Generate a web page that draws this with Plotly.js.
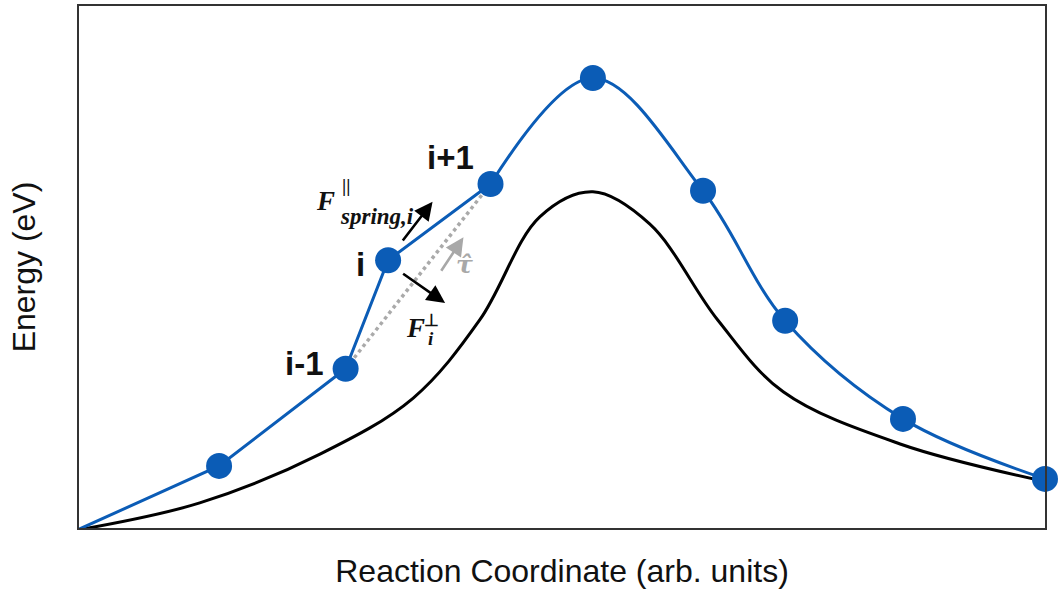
<!DOCTYPE html>
<html>
<head>
<meta charset="utf-8">
<script src="https://cdn.plot.ly/plotly-3.0.1.min.js"></script>
<style>html,body{margin:0;padding:0;background:#fff;}#chart{width:1058px;height:589px;}</style>
</head>
<body>
<div id="chart"></div>
<script>
// NEB images (blue band)
const imageX = [-0.2, 14.5, 27.6, 32.0, 42.6, 53.2, 64.6, 73.1, 85.3, 100.0];
const imageY = [-0.4, 11.9, 30.5, 51.3, 65.9, 86.2, 64.6, 39.7, 20.9, 9.4];
// true minimum energy path (black)
const mepX = [-0.2, 12.5, 25.0, 34.6, 41.5, 47.7, 53.2, 59.1, 66.1, 72.9, 85.0, 99.8];
const mepY = [-0.4, 4.8, 14.2, 24.9, 39.9, 59.6, 64.4, 58.2, 39.9, 26.1, 16.1, 9.0];
// index of image i
const iIdx = 3;

const blue = '#0b5cb6';
const traces = [
  {x: mepX, y: mepY, mode: 'lines', line: {color: '#000', width: 3, shape: 'spline', smoothing: 1}, hoverinfo: 'skip'},
  {x: [imageX[iIdx-1], imageX[iIdx+1]], y: [imageY[iIdx-1], imageY[iIdx+1]], mode: 'lines',
   line: {color: '#aaaaaa', width: 3.5, dash: 'dot'}, hoverinfo: 'skip'},
  {x: imageX.slice(0, iIdx+2), y: imageY.slice(0, iIdx+2), mode: 'lines', line: {color: blue, width: 3}, hoverinfo: 'skip'},
  {x: imageX.slice(iIdx+1), y: imageY.slice(iIdx+1), mode: 'lines', line: {color: blue, width: 3, shape: 'spline', smoothing: 1}, hoverinfo: 'skip'},
  {x: imageX, y: imageY, mode: 'markers', marker: {color: blue, size: 26}, cliponaxis: false, hoverinfo: 'skip'}
];

const lab = {family: 'Liberation Sans, Arial, sans-serif', size: 33, color: '#111'};
const mth = {family: 'Liberation Serif, Times New Roman, serif', size: 27, color: '#111'};
const ann = (x, y, text, font, extra) => Object.assign({x, y, xref: 'x', yref: 'y', text, showarrow: false, font, xanchor: 'center', yanchor: 'middle'}, extra || {});
const arrow = (x0, y0, x1, y1, color) => ({x: x1, y: y1, ax: x0, ay: y0, xref: 'x', yref: 'y', axref: 'x', ayref: 'y',
  text: '', showarrow: true, arrowhead: 2, arrowsize: 1.4, arrowwidth: 2.6, arrowcolor: color});
const gray = '#a8a8a8';

const annotations = [
  ann(38.5, 71.0, '<b>i+1</b>', lab),
  ann(29.1, 50.4, '<b>i</b>', lab),
  ann(23.3, 31.6, '<b>i-1</b>', lab),
  ann(25.5, 62.6, '<b><i>F</i></b>', mth),
  ann(27.6, 65.6, '<b>||</b>', Object.assign({}, mth, {size: 19})),
  ann(26.8, 59.6, '<b><i>spring,i</i></b>', Object.assign({}, mth, {size: 23}), {xanchor: 'left'}),
  ann(34.8, 38.3, '<b><i>F</i></b>', mth),
  ann(36.5, 39.8, '<b>⊥</b>', Object.assign({}, mth, {size: 17})),
  ann(36.4, 36.3, '<b><i>i</i></b>', Object.assign({}, mth, {size: 19})),
  ann(39.9, 50.5, '<b><i>τ̂</i></b>', {family: 'DejaVu Serif, serif', size: 25, color: gray}),
  arrow(33.4, 54.8, 36.6, 62.5, '#000'),
  arrow(33.4, 48.9, 37.9, 43.1, '#000'),
  arrow(37.4, 49.0, 39.8, 55.7, gray)
];

const axTitleFont = {family: 'Liberation Sans, Arial, sans-serif', size: 32, color: '#111'};
const layout = {
  width: 1058, height: 589,
  margin: {l: 79, r: 13, t: 6, b: 61},
  paper_bgcolor: '#fff', plot_bgcolor: '#fff',
  showlegend: false,
  xaxis: {range: [0, 100], showgrid: false, zeroline: false, showticklabels: false, ticks: '',
          showline: true, mirror: true, linecolor: '#333', linewidth: 2,
          title: {text: 'Reaction Coordinate (arb. units)', font: axTitleFont, standoff: 32}},
  yaxis: {range: [0, 100], showgrid: false, zeroline: false, showticklabels: false, ticks: '',
          showline: true, mirror: true, linecolor: '#333', linewidth: 2,
          title: {text: 'Energy (eV)', font: axTitleFont, standoff: 32}},
  annotations
};
Plotly.newPlot('chart', traces, layout, {displayModeBar: false, staticPlot: true});
</script>
</body>
</html>
